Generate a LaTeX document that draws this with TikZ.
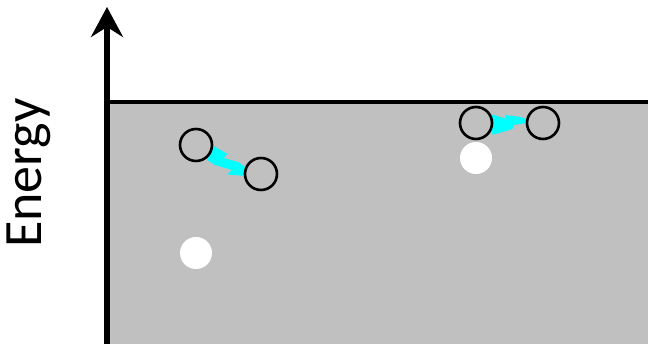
\documentclass[tikz,border=0pt]{standalone}
\usepackage{fontspec}
\setmainfont{Carlito}
\usetikzlibrary{arrows.meta}
\definecolor{bandgray}{HTML}{C0C0C0}
\definecolor{boltcyan}{HTML}{00FFFF}
\tikzset{
  axisline/.style={line width=5.5pt, -{Stealth[length=30pt,width=32pt,inset=10pt]}},
  edgeline/.style={line width=4pt},
  hole/.style={circle, draw=black, line width=2.6pt, fill=bandgray, minimum size=32pt, inner sep=0pt},
  dot/.style={circle, fill=white, minimum size=32pt, inner sep=0pt},
  bolt/.style={fill=boltcyan, draw=none}
}
\begin{document}
\begin{tikzpicture}[x=1pt,y=1pt]
\useasboundingbox (0,0) rectangle (648,344);
\fill[bandgray] (107,0) rectangle (648,242);
\draw[edgeline] (107,242) -- (648,242);
\coordinate (axbot) at (107,0);
\coordinate (axtop) at (107,337);
\draw[axisline] (axbot) -- (axtop);
\node[rotate=90, font=\fontsize{54}{60}\selectfont] (lbl) at (29,171) {Energy};
% bolts
\fill[bolt] (211,199.5) -- (227.5,190) -- (223.5,186) -- (238,182) -- (246,176.5) -- (246,168)
  -- (227.5,169.5) -- (231.5,174) -- (215,179) -- (207,184) -- cycle;
\fill[bolt] (492,229.5) -- (507,225) -- (504.5,229) -- (518,227.5) -- (527,225) -- (527,221)
  -- (514,219) -- (512.5,215) -- (499,211) -- (492,209.5) -- cycle;
\node[hole] (e1) at (196,199) {};
\node[hole] (e2) at (261,170) {};
\node[dot] (h1) at (196,91) {};
\node[hole] (e3) at (476,221) {};
\node[hole] (e4) at (543,221) {};
\node[dot] (h2) at (476,186) {};
\end{tikzpicture}
\end{document}
